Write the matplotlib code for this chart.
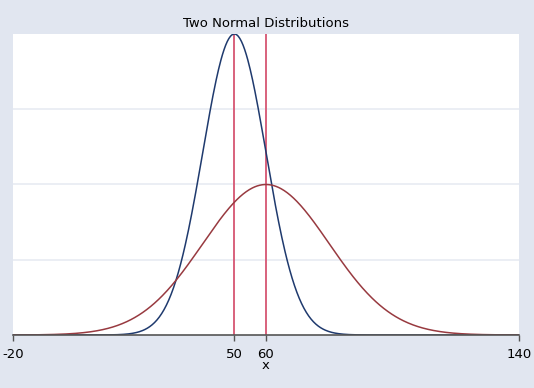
import numpy as np
from matplotlib import pyplot as plt

# distribution parameters
means = [50, 60]
sds = [10, 20]
colors = ['#1f3a6e', '#983a40']
xticks = [-20, 50, 60, 140]
vlines = [50, 60]

x = np.linspace(-20, 140, 641)

fig = plt.figure(figsize=(5.34, 3.88), dpi=100, facecolor='#e1e6f0')
ax = fig.add_axes([13 / 534, 1 - 335 / 388, 506 / 534, 301 / 388])
ax.set_facecolor('white')

for m, s, c in zip(means, sds, colors):
    y = np.exp(-(x - m) ** 2 / (2 * s ** 2)) / (s * np.sqrt(2 * np.pi))
    ax.plot(x, y, color=c, linewidth=1.1, zorder=3)

for v in vlines:
    ax.axvline(v, color='#d8617c', linewidth=1.4, zorder=2)

ax.set_xlim(-20, 140)
ax.set_ylim(0, 1 / (10 * np.sqrt(2 * np.pi)))
ax.set_yticks([0.01, 0.02, 0.03])
ax.set_yticklabels([])
ax.tick_params(axis='y', length=0)
ax.grid(axis='y', color='#e8ebf2', linewidth=1.2, zorder=0)

ax.set_xticks(xticks)
ax.set_xticklabels([str(t) for t in xticks], fontsize=9.5)
ax.tick_params(axis='x', length=4, width=1, color='#555555', pad=5)
ax.set_xlabel('x', fontsize=9.5, labelpad=-1)

for side in ['top', 'right', 'left']:
    ax.spines[side].set_visible(False)
ax.spines['bottom'].set_color('#555555')
ax.spines['bottom'].set_linewidth(1.2)
ax.spines['bottom'].set_zorder(4)

ax.set_title('Two Normal Distributions', fontsize=9.5, pad=5)

plt.savefig('out.png', dpi=100, facecolor=fig.get_facecolor())
